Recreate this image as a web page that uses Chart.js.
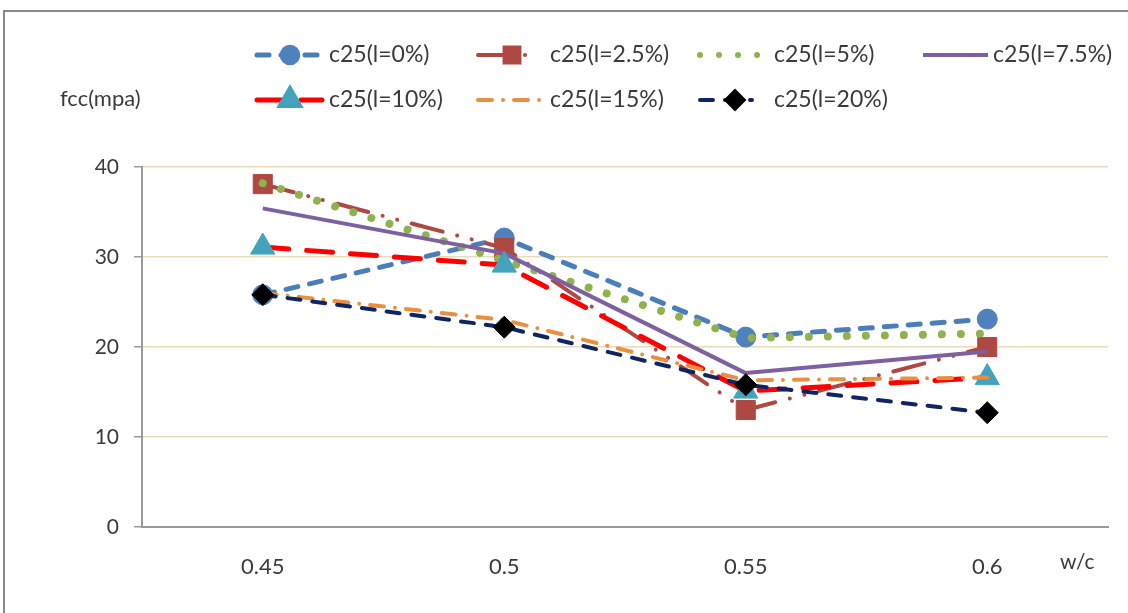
<!DOCTYPE html>
<html>
<head>
<meta charset="utf-8">
<script src="https://cdn.jsdelivr.net/npm/chart.js@4/dist/chart.umd.min.js"></script>
<style>
  html, body { margin: 0; padding: 0; background: #fff; overflow: hidden; }
  canvas { display: block; }
</style>
</head>
<body>
<canvas id="c" width="1128" height="613"></canvas>
<script>
// Compressive strength fcc (MPa) against water/cement ratio, one series per l content
const categories = ['0.45', '0.5', '0.55', '0.6'];
const seriesNames = ['c25(l=0%)', 'c25(l=2.5%)', 'c25(l=5%)', 'c25(l=7.5%)', 'c25(l=10%)', 'c25(l=15%)', 'c25(l=20%)'];
const fccL0   = [25.8, 32.1, 21.1, 23.1];
const fccL2_5 = [38.1, 31.0, 13.0, 20.0];
const fccL5   = [38.2, 29.6, 21.0, 21.5];
const fccL7_5 = [35.4, 30.4, 17.1, 19.5];
const fccL10  = [31.1, 29.1, 15.1, 16.6];
const fccL15  = [26.0, 23.0, 16.3, 16.6];
const fccL20  = [25.8, 22.2, 15.8, 12.7];
const yTicks  = [0, 10, 20, 30, 40];
const yTitle  = 'fcc(mpa)';
const xTitle  = 'w/c';

const seriesValues = [fccL0, fccL2_5, fccL5, fccL7_5, fccL10, fccL15, fccL20];

const FONT = 'Lato, "Open Sans", sans-serif';
const TEXT = '#3a3a3a';

// line and marker look of each series
const looks = [
  { color: '#4A7EBB', width: 5,   dash: [12, 12],                cap: 'round', point: 'circle',   r: 10,   fill: '#4F81BD' },
  { color: '#AE4843', width: 4,   dash: [32, 15, 0.01, 15, 0.01, 15], cap: 'round', point: 'rect', r: 13.5, fill: '#AE4843' },
  { color: '#8FB24E', width: 8,   dash: [0.01, 19],              cap: 'round', point: null },
  { color: '#7D60A0', width: 4,   dash: [],                      cap: 'butt',  point: null },
  { color: '#FF0000', width: 5,   dash: [26, 18],                cap: 'round', point: 'triangle', r: 14,   fill: '#44A3BC' },
  { color: '#E98F42', width: 4,   dash: [14, 11, 0.01, 11],      cap: 'round', point: null },
  { color: '#0F2463', width: 4,   dash: [13, 12],                cap: 'round', point: 'rectRot',  r: 11,   fill: '#000000' }
];

// legend placement: two rows, line sample then name
const legendSlots = [
  { x0: 257, x1: 322, mx: 290, tx: 329, y: 55 },
  { x0: 478, x1: 537, mx: 512, tx: 550, y: 55 },
  { x0: 700, x1: 760, mx: 730, tx: 774, y: 55 },
  { x0: 923, x1: 988, mx: 955, tx: 993, y: 55 },
  { x0: 257, x1: 322, mx: 290, tx: 329, y: 100 },
  { x0: 478, x1: 545, mx: 512, tx: 550, y: 100 },
  { x0: 700, x1: 752, mx: 735, tx: 774, y: 100 }
];

const datasets = seriesNames.map((name, i) => {
  const k = looks[i];
  return {
    label: name,
    data: seriesValues[i],
    borderColor: k.color,
    borderWidth: k.width,
    borderDash: k.dash,
    borderCapStyle: k.cap,
    borderJoinStyle: 'round',
    tension: 0,
    fill: false,
    pointStyle: k.point || 'circle',
    pointRadius: k.point ? k.r : 0,
    pointHoverRadius: k.point ? k.r : 0,
    pointBackgroundColor: k.fill || k.color,
    pointBorderColor: k.fill || k.color,
    pointBorderWidth: 1,
    order: seriesNames.length - 1 - i
  };
});

const decorations = {
  id: 'decorations',
  beforeDraw(chart) {
    const ctx = chart.ctx;
    ctx.save();
    ctx.fillStyle = '#fff';
    ctx.fillRect(0, 0, chart.width, chart.height);
    ctx.strokeStyle = '#8a8a8a';
    ctx.lineWidth = 2;
    ctx.strokeRect(4, 11, 1400, 900);
    ctx.restore();
  },
  afterDraw(chart) {
    const ctx = chart.ctx;
    ctx.save();
    // axis titles
    ctx.fillStyle = TEXT;
    ctx.textBaseline = 'middle';
    ctx.textAlign = 'left';
    ctx.font = '22px ' + FONT;
    ctx.fillText(yTitle, 60, 99);
    ctx.font = '21px ' + FONT;
    ctx.fillText(xTitle, 1060, 562);

    // legend
    chart.data.datasets.forEach((ds, i) => {
      const s = legendSlots[i];
      const k = looks[i];
      ctx.save();
      ctx.strokeStyle = k.color;
      ctx.lineWidth = Math.min(k.width, 6);
      ctx.lineCap = k.cap;
      ctx.setLineDash(k.dash);
      ctx.beginPath();
      ctx.moveTo(s.x0, s.y);
      ctx.lineTo(s.x1, s.y);
      ctx.stroke();
      ctx.setLineDash([]);
      if (k.point) {
        ctx.fillStyle = k.fill;
        ctx.strokeStyle = k.fill;
        Chart.helpers.drawPoint(ctx, { pointStyle: k.point, radius: k.r * 0.78, rotation: 0, borderWidth: 1 }, s.mx, s.y);
      }
      ctx.restore();
      ctx.fillStyle = TEXT;
      ctx.font = '23px ' + FONT;
      ctx.textBaseline = 'middle';
      ctx.textAlign = 'left';
      ctx.fillText(ds.label, s.tx, s.y);
    });
    ctx.restore();
  }
};

new Chart(document.getElementById('c'), {
  type: 'line',
  data: { labels: categories, datasets },
  options: {
    responsive: false,
    animation: false,
    events: [],
    layout: { padding: { top: 167, right: 20, bottom: 0, left: 0 } },
    plugins: { legend: { display: false }, title: { display: false }, tooltip: { enabled: false } },
    scales: {
      x: {
        type: 'category',
        offset: true,
        afterFit: s => { s.height = 86; },
        grid: { display: false, drawTicks: false },
        border: { display: true, color: '#9a9a9a', width: 2 },
        ticks: { color: TEXT, font: { family: FONT, size: 22 }, padding: 27, maxRotation: 0 }
      },
      y: {
        min: 0,
        max: 40,
        afterFit: s => { s.width = 142; },
        afterBuildTicks: s => { s.ticks = yTicks.map(v => ({ value: v })); },
        grid: { color: '#EADBB8', lineWidth: 1.5, tickColor: '#9a9a9a', tickLength: 8, tickWidth: 1.5 },
        border: { display: true, color: '#9a9a9a', width: 2 },
        ticks: { color: TEXT, font: { family: FONT, size: 21 }, padding: 15 }
      }
    }
  },
  plugins: [decorations]
});
</script>
</body>
</html>
